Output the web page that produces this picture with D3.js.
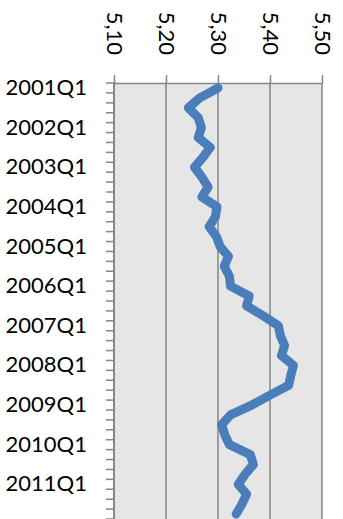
<!DOCTYPE html>
<html>
<head>
<meta charset="utf-8">
<script src="https://cdn.jsdelivr.net/npm/d3@7"></script>
<style>
  html, body { margin: 0; padding: 0; background: #ffffff; }
  svg { display: block; }
  text { font-family: Lato, "Open Sans", sans-serif; fill: #000; }
</style>
</head>
<body>
<svg id="chart" width="343" height="519"></svg>
<script>
// Quarterly series, 2001Q1 – 2011Q4
const years = [2001, 2002, 2003, 2004, 2005, 2006, 2007, 2008, 2009, 2010, 2011];
const quarters = ["Q1", "Q2", "Q3", "Q4"];
const categories = years.flatMap(yr => quarters.map(q => yr + q));

const values = [
  5.300, 5.265, 5.243, 5.262,   // 2001
  5.268, 5.262, 5.285, 5.271,   // 2002
  5.255, 5.269, 5.281, 5.269,   // 2003
  5.298, 5.295, 5.283, 5.297,   // 2004
  5.304, 5.320, 5.312, 5.322,   // 2005
  5.324, 5.360, 5.355, 5.387,   // 2006
  5.416, 5.420, 5.428, 5.422,   // 2007
  5.445, 5.440, 5.436, 5.400,   // 2008
  5.365, 5.324, 5.307, 5.313,   // 2009
  5.322, 5.362, 5.368, 5.352,   // 2010
  5.339, 5.355, 5.346, 5.335    // 2011
];

const valueTicks = [5.10, 5.20, 5.30, 5.40, 5.50];
const labelledCategories = years.map(yr => yr + "Q1");

const svg = d3.select("#chart");
const plot = { left: 114, right: 322, top: 83, bottom: 519 };
const axisColor = "#868686";

const x = d3.scaleLinear().domain([5.10, 5.50]).range([plot.left, plot.right]);
const y = d3.scaleBand().domain(categories).range([plot.top, plot.bottom]).padding(0);

const fmt = d3.formatLocale({ decimal: ",", thousands: ".", grouping: [3], currency: ["", ""] }).format(".2f");

// plot background
svg.append("rect")
  .attr("x", plot.left).attr("y", plot.top)
  .attr("width", plot.right - plot.left).attr("height", plot.bottom - plot.top)
  .attr("fill", "#e6e6e6");

// vertical gridlines
svg.append("g")
  .selectAll("line")
  .data(valueTicks.slice(1))
  .join("line")
  .attr("x1", d => x(d)).attr("x2", d => x(d))
  .attr("y1", plot.top).attr("y2", plot.bottom)
  .attr("stroke", axisColor).attr("stroke-width", 1.5);

// value axis along the top
const topAxis = svg.append("g")
  .attr("transform", `translate(0,${plot.top})`)
  .call(d3.axisTop(x).tickValues(valueTicks).tickSize(8).tickSizeOuter(0).tickFormat(fmt));
topAxis.select(".domain").attr("stroke", axisColor).attr("stroke-width", 1.5);
topAxis.selectAll(".tick line").attr("stroke", axisColor).attr("stroke-width", 1.5);
topAxis.selectAll(".tick text")
  .attr("x", 0).attr("y", 0).attr("dy", "0.35em")
  .attr("text-anchor", "end")
  .attr("transform", "translate(0,-28) rotate(90)")
  .style("font-family", "Lato, 'Open Sans', sans-serif")
  .style("font-size", "22px")
  .attr("fill", "#000");

// category axis on the left
const leftAxis = svg.append("g")
  .attr("transform", `translate(${plot.left},0)`)
  .call(d3.axisLeft(y).tickValues(labelledCategories).tickSize(0).tickPadding(27));
leftAxis.select(".domain").remove();
leftAxis.selectAll(".tick text")
  .style("font-family", "Lato, 'Open Sans', sans-serif")
  .style("font-size", "22px")
  .attr("fill", "#000");

// tick marks at every category boundary
const boundaries = categories.map(c => y(c)).concat([y.range()[1]]);
svg.append("g")
  .selectAll("line")
  .data(boundaries)
  .join("line")
  .attr("x1", plot.left - 8).attr("x2", plot.left)
  .attr("y1", d => d).attr("y2", d => d)
  .attr("stroke", axisColor).attr("stroke-width", 1.5);

svg.append("line")
  .attr("x1", plot.left).attr("x2", plot.left)
  .attr("y1", plot.top).attr("y2", plot.bottom)
  .attr("stroke", axisColor).attr("stroke-width", 2);

// data line
const points = categories.map((c, i) => ({ c, v: values[i] }));
svg.append("path")
  .datum(points)
  .attr("fill", "none")
  .attr("stroke", "#4a7ebb")
  .attr("stroke-width", 9)
  .attr("stroke-linejoin", "round")
  .attr("stroke-linecap", "round")
  .attr("d", d3.line().x(d => x(d.v)).y(d => y(d.c) + y.bandwidth() / 2));
</script>
</body>
</html>
